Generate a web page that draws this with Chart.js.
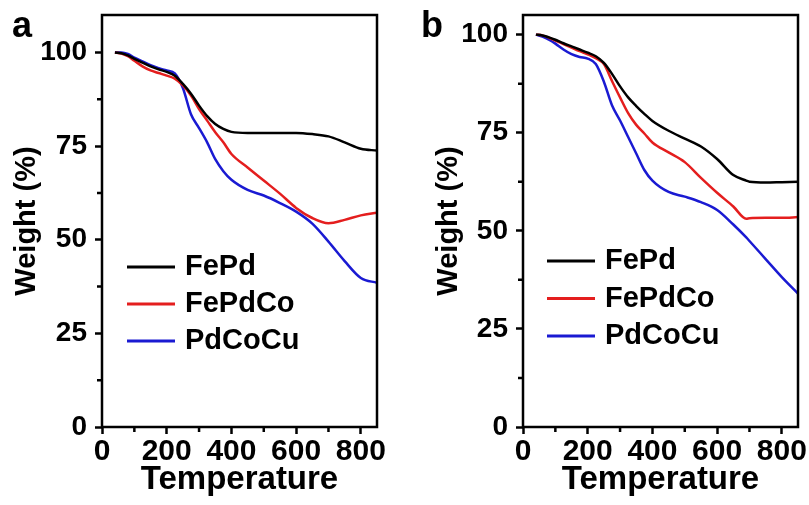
<!DOCTYPE html>
<html>
<head>
<meta charset="utf-8">
<script src="https://cdn.jsdelivr.net/npm/chart.js@4.4.1/dist/chart.umd.min.js"></script>
<style>
  html, body { margin: 0; padding: 0; background: #fff; }
  #wrap { position: relative; width: 809px; height: 505px; overflow: hidden; }
  .panel { position: absolute; top: 0; }
</style>
</head>
<body>
<div id="wrap">
  <canvas id="chart-a" class="panel" width="405" height="505" style="left:0"></canvas>
  <canvas id="chart-b" class="panel" width="404" height="505" style="left:405px"></canvas>
</div>
<script>
// TGA curves

// panel a
const tempA    = [40, 60, 80, 100, 125, 150, 175, 200, 225, 250, 275, 300, 325, 350, 375, 400, 450, 500, 550, 600, 650, 700, 750, 800, 850];
const fepdA    = [100, 99.8, 99.2, 98.3, 97.3, 96.3, 95.5, 94.8, 93.8, 91.6, 89.0, 85.8, 83.0, 80.9, 79.6, 78.8, 78.5, 78.5, 78.5, 78.5, 78.2, 77.6, 76.0, 74.3, 73.8];
const fepdcoA  = [100, 99.7, 99.0, 97.8, 96.3, 95.2, 94.5, 93.8, 93.0, 91.2, 88.5, 84.9, 81.8, 78.7, 76.0, 72.9, 69.3, 65.8, 62.3, 58.5, 55.8, 54.4, 55.3, 56.5, 57.2];
const pdcocuA  = [100, 100, 99.6, 98.6, 97.6, 96.6, 95.8, 95.2, 94.4, 90.5, 83.5, 79.8, 76.0, 71.5, 68.3, 66.0, 63.3, 61.8, 59.8, 57.5, 54.3, 49.5, 44.3, 39.8, 38.5];

// panel b
const tempB    = [40, 60, 80, 100, 125, 150, 175, 200, 225, 250, 275, 300, 325, 350, 375, 400, 450, 500, 550, 600, 650, 690, 700, 750, 800, 850];
const fepdB    = [100, 99.8, 99.3, 98.7, 97.8, 97.0, 96.2, 95.4, 94.5, 92.8, 90.0, 86.8, 84.0, 81.8, 79.8, 78.0, 75.5, 73.5, 71.5, 68.3, 64.2, 62.8, 62.5, 62.3, 62.4, 62.5];
const fepdcoB  = [100, 99.8, 99.2, 98.5, 97.6, 96.7, 95.8, 95.0, 94.0, 92.5, 88.2, 84.0, 80.0, 77.0, 74.8, 72.5, 70.0, 67.5, 63.5, 59.7, 56.2, 53.1, 53.2, 53.3, 53.3, 53.5];
const pdcocuB  = [100, 99.5, 98.7, 97.7, 96.2, 95.0, 94.3, 93.9, 92.5, 88.0, 82.0, 78.1, 73.9, 69.7, 65.5, 62.8, 59.9, 58.7, 57.3, 55.3, 51.6, 48.3, 47.4, 42.8, 38.2, 34.0];

const seriesNames  = ['FePd', 'FePdCo', 'PdCoCu'];
const seriesColors = ['#000000', '#e41e1e', '#1a1ad2'];

// axis ticks
const xTicks = [0, 200, 400, 600, 800];
const xMinor = [100, 300, 500, 700];
const yTicks = [0, 25, 50, 75, 100];
const yMinor = [12.5, 37.5, 62.5, 87.5];

const FONT = "'Liberation Sans', Arial, Helvetica, sans-serif";

// frame, minor ticks, legend and panel letter
const extrasPlugin = {
    id: 'extras',
    afterDraw(chart, args, opts) {
        const { ctx, chartArea: a } = chart;
        const x = chart.scales.x, y = chart.scales.y;
        ctx.save();
        ctx.strokeStyle = '#000';
        ctx.lineWidth = 2.5;
        ctx.strokeRect(a.left, a.top, a.right - a.left, a.bottom - a.top);

        ctx.beginPath();
        xMinor.forEach(v => {
            const px = x.getPixelForValue(v);
            ctx.moveTo(px, a.bottom);
            ctx.lineTo(px, a.bottom + 5);
        });
        yMinor.forEach(v => {
            const py = y.getPixelForValue(v);
            ctx.moveTo(a.left, py);
            ctx.lineTo(a.left - 5, py);
        });
        ctx.stroke();

        // legend
        ctx.font = 'bold 29px ' + FONT;
        ctx.textBaseline = 'middle';
        ctx.textAlign = 'left';
        chart.data.datasets.forEach((ds, i) => {
            const ly = a.top + opts.legendTop + i * opts.rowGap;
            const lx = a.left + opts.legendLeft;
            ctx.strokeStyle = ds.borderColor;
            ctx.lineWidth = 3;
            ctx.beginPath();
            ctx.moveTo(lx, ly);
            ctx.lineTo(lx + 48, ly);
            ctx.stroke();
            ctx.fillStyle = '#000';
            ctx.fillText(ds.label, lx + 58, ly);
        });

        // panel letter
        ctx.font = 'bold 36px ' + FONT;
        ctx.textBaseline = 'alphabetic';
        ctx.fillText(opts.letter, opts.letterX, opts.letterY);
        ctx.restore();
    }
};

const makePanel = (id, temps, series, yMax, cfg) => {
    const canvas = document.getElementById(id);
    const datasets = series.map((vals, i) => ({
        label: seriesNames[i],
        data: temps.map((t, j) => ({ x: t, y: vals[j] })),
        borderColor: seriesColors[i],
        borderWidth: 2.5,
        pointRadius: 0,
        cubicInterpolationMode: 'monotone',
        fill: false
    }));

    return new Chart(canvas.getContext('2d'), {
        type: 'line',
        data: { datasets },
        plugins: [extrasPlugin],
        options: {
            responsive: false,
            animation: false,
            events: [],
            layout: { padding: { left: 0, right: cfg.padRight, top: 15, bottom: 0 } },
            plugins: {
                legend: { display: false },
                tooltip: { enabled: false },
                extras: cfg.extras
            },
            scales: {
                x: {
                    type: 'linear',
                    min: 0,
                    max: 850,
                    afterBuildTicks: s => { s.ticks = xTicks.map(v => ({ value: v })); },
                    afterFit: s => { s.height = 78; s.paddingLeft = 0; s.paddingRight = 0; },
                    grid: { drawOnChartArea: false, drawTicks: true, tickLength: 7, tickWidth: 2.5, tickColor: '#000' },
                    border: { display: false },
                    ticks: { color: '#000', padding: 0, maxRotation: 0, font: { family: FONT, size: 30, weight: 'bold' } },
                    title: {
                        display: true,
                        text: 'Temperature',
                        color: '#000',
                        font: { family: FONT, size: 33, weight: 'bold', lineHeight: 1 },
                        padding: { top: 0, bottom: 9 }
                    }
                },
                y: {
                    type: 'linear',
                    min: 0,
                    max: yMax,
                    afterBuildTicks: s => { s.ticks = yTicks.map(v => ({ value: v })); },
                    afterFit: s => { s.width = cfg.yWidth; s.paddingTop = 0; s.paddingBottom = 0; },
                    grid: { drawOnChartArea: false, drawTicks: true, tickLength: 7, tickWidth: 2.5, tickColor: '#000' },
                    border: { display: false },
                    ticks: { color: '#000', padding: 8, font: { family: FONT, size: 28, weight: 'bold' } },
                    title: {
                        display: true,
                        text: 'Weight (%)',
                        color: '#000',
                        font: { family: FONT, size: 29, weight: 'bold', lineHeight: 1 },
                        padding: { top: cfg.yTitlePad, bottom: 0 }
                    }
                }
            }
        }
    });
};

makePanel('chart-a', tempA, [fepdA, fepdcoA, pdcocuA], 110, {
    padRight: 28,
    yWidth: 102,
    yTitlePad: 12,
    extras: { legendLeft: 25, legendTop: 252, rowGap: 37, letter: 'a', letterX: 12, letterY: 37 }
});

makePanel('chart-b', tempB, [fepdB, fepdcoB, pdcocuB], 105, {
    padRight: 11,
    yWidth: 118,
    yTitlePad: 29,
    extras: { legendLeft: 24, legendTop: 246, rowGap: 37.5, letter: 'b', letterX: 16, letterY: 37 }
});
</script>
</body>
</html>
